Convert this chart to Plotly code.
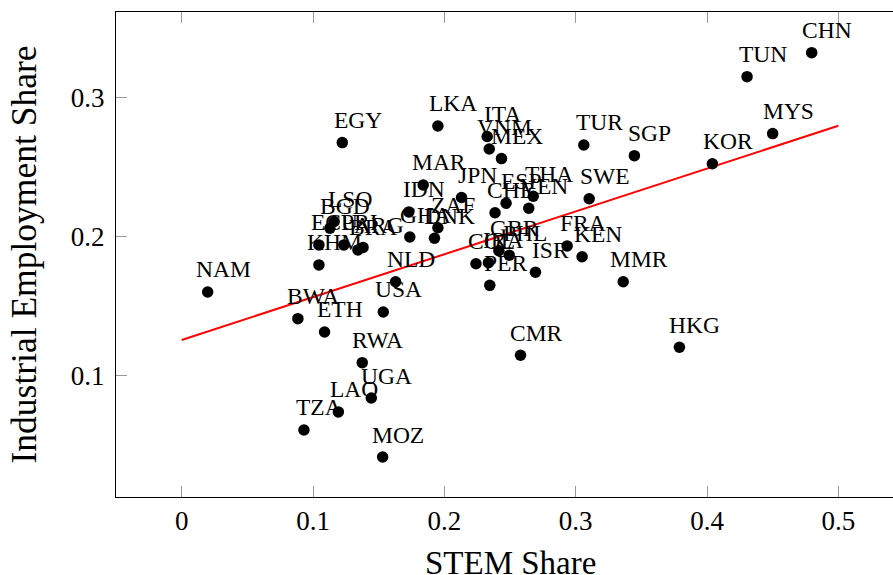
import plotly.graph_objects as go

countries = ["CHN", "TUN", "MYS", "KOR", "SGP", "TUR", "SWE", "FRA", "KEN", "MMR",
             "HKG", "CMR", "MOZ", "TZA", "LAO", "UGA", "RWA", "ETH", "BWA", "USA",
             "NLD", "NAM", "KHM", "ECU", "PRI", "BGD", "LSO", "BRA", "ARG", "MAR",
             "IDN", "ZAF", "DNK", "GHA", "JPN", "CHE", "ESP", "THA", "VEN", "GBR",
             "PHL", "COL", "IRA", "PER", "ISR", "ITA", "VNM", "MEX", "LKA", "EGY"]
stem_share = [0.4797, 0.4305, 0.4500, 0.4041, 0.3447, 0.3062, 0.3103, 0.2935, 0.3049, 0.3362,
              0.3790, 0.2580, 0.1530, 0.0931, 0.1193, 0.1444, 0.1375, 0.1088, 0.0885, 0.1535,
              0.1629, 0.0198, 0.1045, 0.1045, 0.1235, 0.1129, 0.1161, 0.1342, 0.1381, 0.1839,
              0.1730, 0.1951, 0.1925, 0.1737, 0.2131, 0.2386, 0.2470, 0.2677, 0.2643, 0.2415,
              0.2494, 0.2241, 0.2336, 0.2346, 0.2694, 0.2326, 0.2342, 0.2435, 0.1951, 0.1223]
industry_share = [0.3324, 0.3151, 0.2741, 0.2524, 0.2582, 0.2659, 0.2272, 0.1932, 0.1854, 0.1674,
                  0.1202, 0.1144, 0.0411, 0.0606, 0.0736, 0.0836, 0.1091, 0.1312, 0.1408, 0.1456,
                  0.1674, 0.1600, 0.1795, 0.1939, 0.1939, 0.2059, 0.2108, 0.1903, 0.1921, 0.2371,
                  0.2177, 0.2063, 0.1987, 0.1996, 0.2281, 0.2171, 0.2239, 0.2290, 0.2203, 0.1897,
                  0.1865, 0.1803, 0.1811, 0.1648, 0.1742, 0.2720, 0.2630, 0.2561, 0.2796, 0.2676]

fit_x = [0.0, 0.5]
fit_y = [0.1254, 0.2798]

x_ticks = [0, 0.1, 0.2, 0.3, 0.4, 0.5]
x_tick_labels = ["0", "0.1", "0.2", "0.3", "0.4", "0.5"]
y_ticks = [0.1, 0.2, 0.3]
y_tick_labels = ["0.1", "0.2", "0.3"]

FONT = "Liberation Serif"

fig = go.Figure()
fig.add_trace(go.Scatter(x=fit_x, y=fit_y, mode="lines",
                         line=dict(color="#ff0000", width=2), showlegend=False,
                         hoverinfo="skip"))
fig.add_trace(go.Scatter(x=stem_share, y=industry_share, mode="markers",
                         marker=dict(color="black", size=11.5, line=dict(width=0)),
                         text=countries, showlegend=False))

for c, xv, yv in zip(countries, stem_share, industry_share):
    fig.add_annotation(x=xv, y=yv, text=c, showarrow=False, xanchor="center",
                       yanchor="bottom", xshift=15.5, yshift=7.5,
                       font=dict(family=FONT, size=23.5, color="black"))

fig.add_annotation(xref="paper", yref="paper", x=0.5, y=0, yanchor="top", yshift=-46,
                   text="STEM Share", showarrow=False,
                   font=dict(family=FONT, size=33, color="black"))
fig.add_annotation(xref="paper", yref="paper", x=0, y=0.5, xanchor="center",
                   xshift=-93, text="Industrial Employment Share", textangle=-90,
                   showarrow=False, font=dict(family=FONT, size=35.5, color="black"))

fig.update_layout(
    width=908, height=575,
    margin=dict(l=116, r=4, t=12, b=78),
    paper_bgcolor="white", plot_bgcolor="white",
    font=dict(family=FONT, color="black"),
)
fig.update_xaxes(range=[-0.05, 0.55], tickvals=x_ticks, ticktext=x_tick_labels,
                 showgrid=False, zeroline=False, showline=True, linecolor="black",
                 linewidth=1, mirror="allticks", ticks="inside", ticklen=11,
                 tickcolor="#999999", tickwidth=1, tickfont=dict(family=FONT, size=27),
                 ticklabelstandoff=0)
fig.update_yaxes(range=[0.0123, 0.3617], tickvals=y_ticks, ticktext=y_tick_labels,
                 showgrid=False, zeroline=False, showline=True, linecolor="black",
                 linewidth=1, mirror="allticks", ticks="inside", ticklen=11,
                 tickcolor="#999999", tickwidth=1, tickfont=dict(family=FONT, size=27),
                 ticklabelstandoff=5)

fig.write_html(
    "out.html",
    config={"displayModeBar": False},
    post_script=("document.body.style.margin='0';"
                 "document.body.style.overflow='hidden';"
                 "document.documentElement.style.overflow='hidden';"),
)
